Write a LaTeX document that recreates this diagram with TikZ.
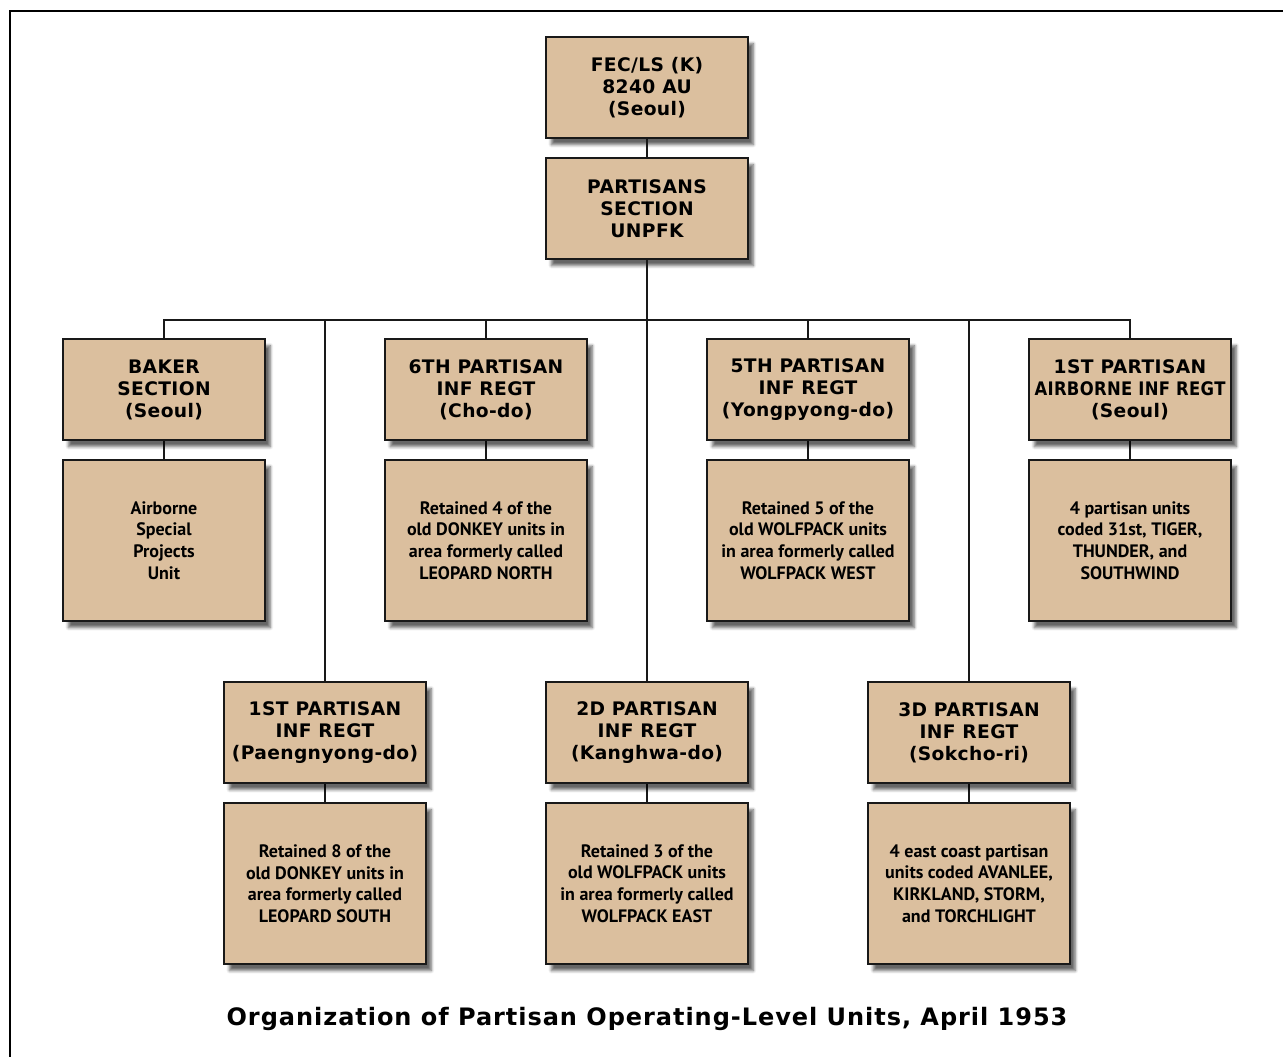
\documentclass[tikz,border=0pt]{standalone}
\usepackage{fontspec}
\setmainfont{DejaVu Sans}
\newfontfamily\headfont[LetterSpace=2]{DejaVu Sans}
\newfontfamily\captionfont[LetterSpace=4]{DejaVu Sans}
\newfontfamily\bodyfont{PT Sans}
\usetikzlibrary{shadows.blur}
\definecolor{unitfill}{RGB}{219,191,158}
\definecolor{unitline}{RGB}{25,25,25}
\tikzset{
    unit/.style={draw=unitline, line width=1.5pt, fill=unitfill,
        minimum width=151.5pt, minimum height=75.75pt, inner sep=0pt,
        align=center, font=\headfont\bfseries\fontsize{14}{16.5}\selectfont,
        blur shadow={shadow xshift=4pt, shadow yshift=-5pt, shadow blur steps=6, shadow opacity=60}},
    task/.style={unit, minimum height=120.75pt,
        font=\bodyfont\bfseries\fontsize{13.5}{16.2}\selectfont},
    link/.style={draw=unitline, line width=1.5pt}
}
\begin{document}
\begin{tikzpicture}[x=0.75pt, y=-0.75pt]
        \useasboundingbox (0,0) rectangle (1283,1057);
        % frame
        \draw[line width=1.2pt] (10,1057) -- (10,11) -- (1283,11);
        % command
        \node[unit] (hq) at (647,87.5) {FEC/LS (K)\\8240 AU\\(Seoul)};
        \node[unit] (psec) at (647,208.5) {PARTISANS\\SECTION\\UNPFK};
        \coordinate (bus) at (647,320);
        % first row of regiments
        \foreach \name/\x/\head/\body in {
            baker/164/{BAKER\\SECTION\\(Seoul)}/{Airborne\\Special\\Projects\\Unit},
            sixth/486/{6TH PARTISAN\\INF REGT\\(Cho-do)}/{Retained 4 of the\\old DONKEY units in\\area formerly called\\LEOPARD NORTH},
            fifth/808/{5TH PARTISAN\\INF REGT\\(Yongpyong-do)}/{Retained 5 of the\\old WOLFPACK units\\in area formerly called\\WOLFPACK WEST},
            abn/1130/{1ST PARTISAN\\\scalebox{0.88}[1]{AIRBORNE INF REGT}\\(Seoul)}/{4 partisan units\\coded 31st, TIGER,\\THUNDER, and\\SOUTHWIND}}
        {
            \draw[link] (\x,389.5) |- (bus);
            \draw[link] (\x,389.5) -- (\x,540.5);
            \node[unit] (\name) at (\x,389.5) {\head};
            \node[task] (\name-units) at (\x,540.5) {\body};
        }
        % second row of regiments
        \foreach \name/\x/\head/\body in {
            first/325/{1ST PARTISAN\\INF REGT\\(Paengnyong-do)}/{Retained 8 of the\\old DONKEY units in\\area formerly called\\LEOPARD SOUTH},
            second/647/{2D PARTISAN\\INF REGT\\(Kanghwa-do)}/{Retained 3 of the\\old WOLFPACK units\\in area formerly called\\WOLFPACK EAST},
            third/969/{3D PARTISAN\\INF REGT\\(Sokcho-ri)}/{4 east coast partisan\\units coded AVANLEE,\\KIRKLAND, STORM,\\and TORCHLIGHT}}
        {
            \draw[link] (\x,732.5) |- (bus);
            \draw[link] (\x,732.5) -- (\x,883.5);
            \node[unit] (\name) at (\x,732.5) {\head};
            \node[task] (\name-units) at (\x,883.5) {\body};
        }
        \draw[link] (hq) -- (psec);
        \draw[link] (psec) -- (bus);
        \node[font=\captionfont\bfseries\fontsize{18}{20}\selectfont] (caption) at (647,1019)
            {Organization of Partisan Operating-Level Units, April 1953};
    \end{tikzpicture}
\end{document}
